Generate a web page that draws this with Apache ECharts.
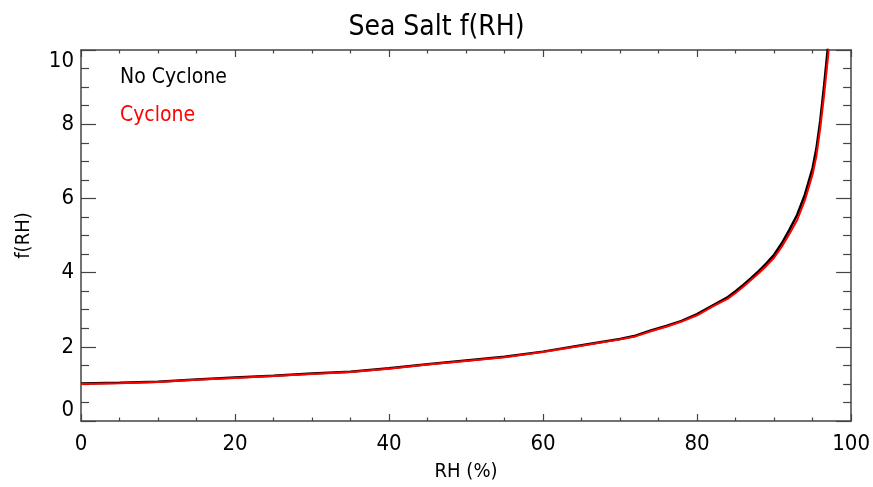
<!DOCTYPE html>
<html>
<head>
<meta charset="utf-8">
<script src="https://cdn.jsdelivr.net/npm/echarts@6/dist/echarts.min.js"></script>
<style>html,body{margin:0;padding:0;background:#fff;}#c{width:873px;height:487px;}</style>
</head>
<body>
<div id="c"></div>
<script>
const rhValues = [0, 5, 10, 15, 20, 25, 30, 35, 40, 45, 50, 55, 60, 65, 70, 72, 74, 76, 78, 80, 82, 84, 85, 86, 87, 88, 89, 90, 91, 92, 93, 94, 95, 95.5, 96, 96.5, 97, 97.2];
const noCycloneF = [1.01, 1.03, 1.06, 1.12, 1.17, 1.22, 1.28, 1.33, 1.42, 1.53, 1.63, 1.73, 1.87, 2.04, 2.21, 2.30, 2.44, 2.56, 2.70, 2.88, 3.11, 3.34, 3.50, 3.67, 3.85, 4.04, 4.25, 4.48, 4.79, 5.16, 5.56, 6.10, 6.82, 7.35, 8.10, 9.05, 10.1, 10.6];
const cycloneF   = [1.00, 1.02, 1.05, 1.11, 1.16, 1.21, 1.27, 1.32, 1.41, 1.52, 1.62, 1.72, 1.86, 2.03, 2.20, 2.28, 2.42, 2.54, 2.68, 2.85, 3.08, 3.30, 3.45, 3.62, 3.80, 3.98, 4.18, 4.40, 4.70, 5.05, 5.42, 5.95, 6.65, 7.15, 7.90, 8.80, 9.80, 10.3];
const xTicks = [0, 20, 40, 60, 80, 100];
const yTicks = [0, 2, 4, 6, 8, 10];
const seriesNames = ['No Cyclone', 'Cyclone'];

const FONT = "'DejaVu Sans Condensed', 'Liberation Sans', sans-serif";
const AX = '#444';
const chart = echarts.init(document.getElementById('c'), null, {renderer: 'canvas'});

function xAx(pos, show) {
  return {
    type: 'value', position: pos, min: xTicks[0], max: xTicks[xTicks.length - 1], interval: 20,
    axisLine: {show: true, onZero: false, lineStyle: {color: AX, width: 1.5}},
    axisTick: {show: true, inside: true, length: 7, lineStyle: {color: AX, width: 1.2}},
    minorTick: {show: true, splitNumber: 4, length: 3.5, lineStyle: {color: AX, width: 1.2}},
    splitLine: {show: false}, minorSplitLine: {show: false},
    axisLabel: {show: show, color: '#000', fontFamily: FONT, fontSize: 22, margin: 12},
    name: show ? 'RH (%)' : '', nameLocation: 'middle', nameGap: 41,
    nameTextStyle: {color: '#000', fontFamily: FONT, fontSize: 20}
  };
}
function yAx(pos, show) {
  return {
    type: 'value', position: pos, min: yTicks[0], max: yTicks[yTicks.length - 1], interval: 2,
    axisLine: {show: true, onZero: false, lineStyle: {color: AX, width: 1.5}},
    axisTick: {show: true, inside: true, length: 15, lineStyle: {color: AX, width: 1.2}},
    minorTick: {show: true, splitNumber: 4, length: 8, lineStyle: {color: AX, width: 1.2}},
    splitLine: {show: false}, minorSplitLine: {show: false},
    axisLabel: {show: show, color: '#000', fontFamily: FONT, fontSize: 22, margin: 7,
      verticalAlignMinLabel: 'bottom', verticalAlignMaxLabel: 'top'},
    name: show ? 'f(RH)' : '', nameLocation: 'middle', nameGap: 47, nameRotate: 90,
    nameTextStyle: {color: '#000', fontFamily: FONT, fontSize: 20}
  };
}

chart.setOption({
  animation: false,
  backgroundColor: '#fff',
  title: {text: 'Sea Salt f(RH)', left: 'center', top: 9,
    textStyle: {color: '#000', fontFamily: FONT, fontSize: 28, fontWeight: 'normal'}},
  grid: {left: 81, right: 21, top: 50, bottom: 65, containLabel: false},
  xAxis: [xAx('bottom', true), xAx('top', false)],
  yAxis: [yAx('left', true), yAx('right', false)],
  graphic: [
    {type: 'text', left: 120, top: 67, style: {text: seriesNames[0], fill: '#000', font: '21px ' + FONT}},
    {type: 'text', left: 120, top: 105, style: {text: seriesNames[1], fill: '#ff0000', font: '21px ' + FONT}}
  ],
  series: [
    {name: seriesNames[0], type: 'line', xAxisIndex: 0, yAxisIndex: 0, showSymbol: false, clip: true,
      data: rhValues.map((x, i) => [x, noCycloneF[i]]), lineStyle: {color: '#000', width: 2.5}},
    {name: seriesNames[1], type: 'line', xAxisIndex: 0, yAxisIndex: 0, showSymbol: false, clip: true,
      data: rhValues.map((x, i) => [x, cycloneF[i]]), lineStyle: {color: '#ff0000', width: 2}}
  ]
});
</script>
</body>
</html>
